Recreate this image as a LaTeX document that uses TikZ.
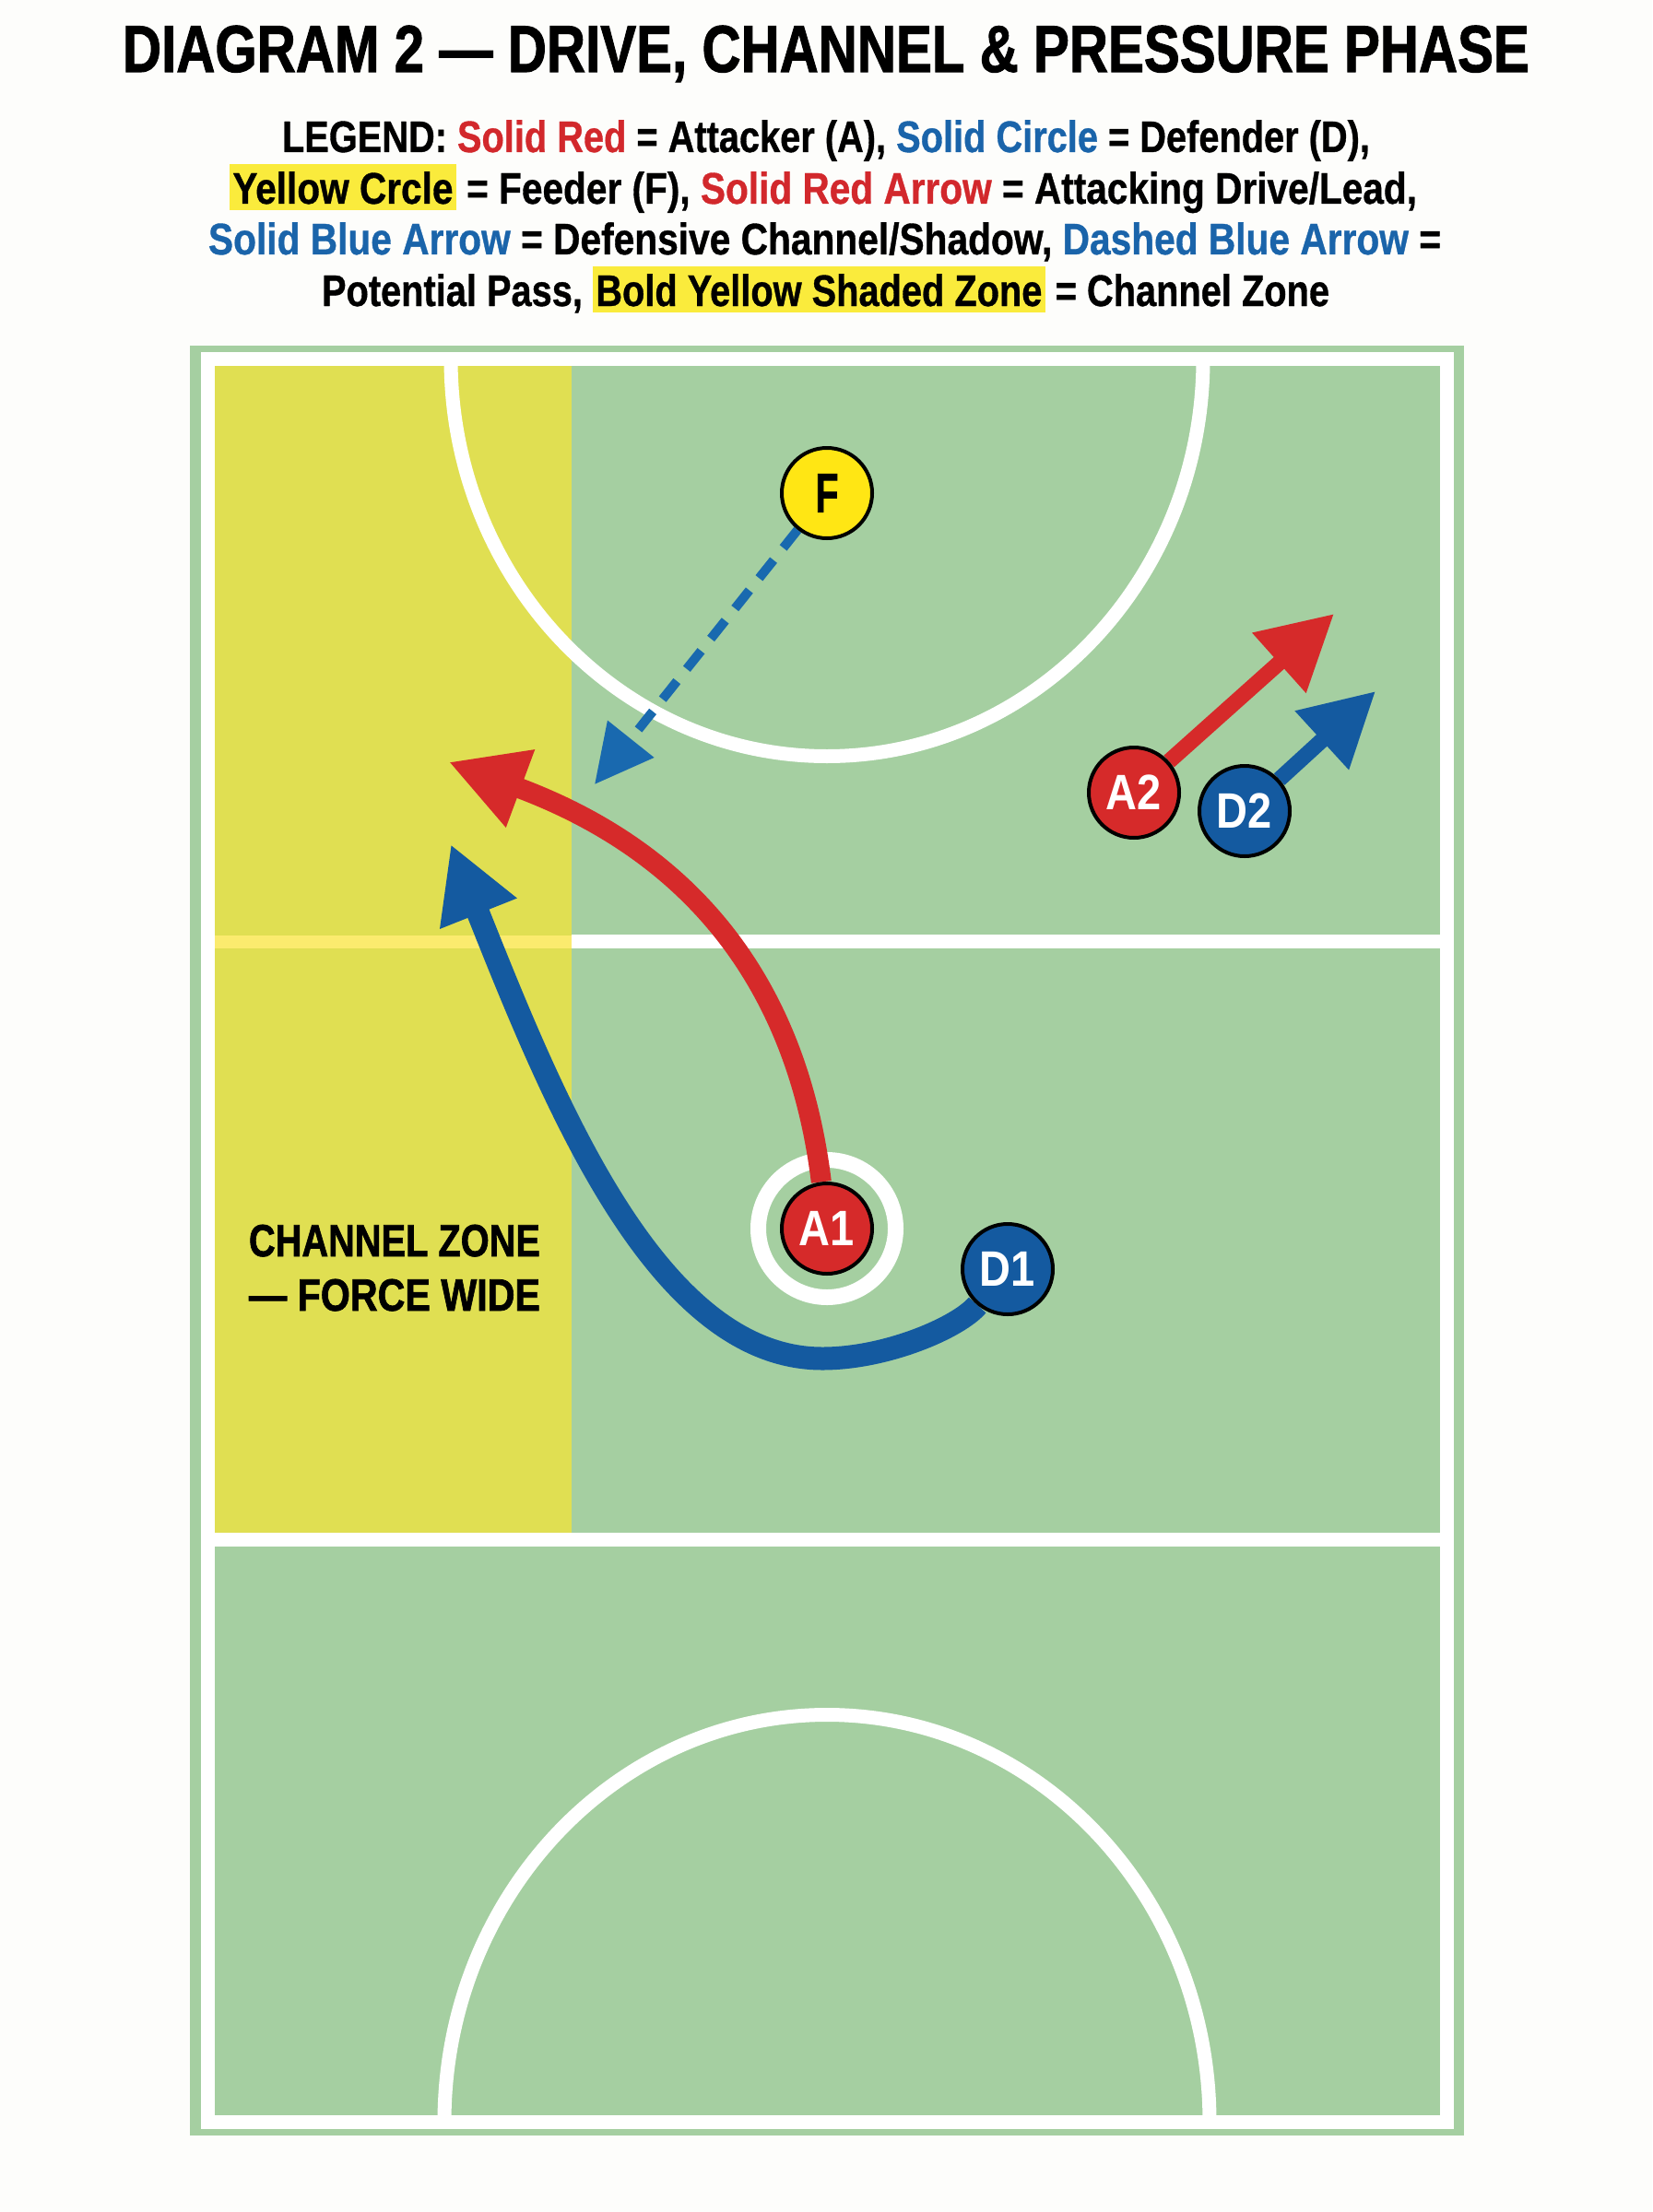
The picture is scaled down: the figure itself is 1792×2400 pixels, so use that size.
\documentclass[tikz,border=0pt]{standalone}
\usepackage{fontspec}
\usepackage{graphicx}
\setmainfont{Liberation Sans}
\newfontfamily\heavyfont{Liberation Sans}[FakeBold=1.5]
\newfontfamily\legendfont{Liberation Sans}[FakeBold=0.8]
\usetikzlibrary{arrows.meta}
\definecolor{pagebg}{HTML}{FDFDFB}
\definecolor{court}{HTML}{A5CFA1}
\definecolor{zoneyellow}{HTML}{E0DF52}
\definecolor{paleyellow}{HTML}{FBEB6E}
\definecolor{hlyellow}{HTML}{FAEB3C}
\definecolor{pred}{HTML}{D62A2A}
\definecolor{pblue}{HTML}{145AA0}
\definecolor{passblue}{HTML}{1969AF}
\definecolor{fyellow}{HTML}{FFE614}
\definecolor{tred}{HTML}{D2282C}
\definecolor{tblue}{HTML}{1A64AA}
\newcommand\hlbox[1]{{\setlength{\fboxsep}{0pt}\colorbox{hlyellow}{\rule[-7pt]{0pt}{50pt}\hspace{4pt}#1\hspace{4pt}}}}
\pgfdeclarelayer{courtlayer}
\pgfdeclarelayer{arrowlayer}
\pgfsetlayers{courtlayer,arrowlayer,main}
\tikzset{
  courtline/.style={draw=white, line width=15pt},
  paleline/.style={draw=paleyellow, line width=14pt},
  player/.style={circle, draw=black, line width=4pt, minimum size=98pt, inner sep=0pt,
    text=white, font=\fontsize{54}{54}\selectfont\bfseries},
  feeder/.style={player, fill=fyellow, text=black, font=\fontsize{60}{60}\selectfont\heavyfont\bfseries},
  titletext/.style={anchor=base, inner sep=0pt, font=\fontsize{72}{72}\selectfont\heavyfont\bfseries},
  legendtext/.style={anchor=base, inner sep=0pt, font=\fontsize{48}{48}\selectfont\legendfont\bfseries},
  zonetext/.style={anchor=base, inner sep=0pt, font=\fontsize{49}{49}\selectfont\heavyfont\bfseries},
  drivearrow/.style={draw=pred, line width=22pt, -{Triangle[length=83pt,width=84pt]}},
  shadowarrow/.style={draw=pblue, line width=25pt, -{Triangle[length=81pt,width=84pt]}},
  leadred/.style={draw=pred, line width=17pt, -{Triangle[length=80pt,width=83pt]}},
  leadblue/.style={draw=pblue, line width=17pt, -{Triangle[length=79pt,width=82pt]}},
  passarrow/.style={draw=passblue, line width=10pt, dash pattern=on 25pt off 17pt, -{Triangle[length=63pt,width=62pt]}}
}
\begin{document}
\begin{tikzpicture}[x=1pt,y=-1pt]
\useasboundingbox (0,0) rectangle (1792,2400);

% players
\node[player, fill=pred] (A1) at (897,1333) {\scalebox{0.87}[1]{A1}};
\node[player, fill=pblue] (D1) at (1093,1377) {\scalebox{0.87}[1]{D1}};
\node[player, fill=pred] (A2) at (1230,860) {\scalebox{0.87}[1]{A2}};
\node[player, fill=pblue] (D2) at (1350,880) {\scalebox{0.87}[1]{D2}};
\node[feeder] (F) at (897,535) {\scalebox{0.68}[1]{F}};

\coordinate (redtip) at (486.7,826.7);
\coordinate (bluebottom) at (892,1474);
\coordinate (bluetip) at (489,916);
\coordinate (passtip) at (645,851);
\coordinate (a2tip) at (1447,666);
\coordinate (d2tip) at (1492,750);

\begin{pgfonlayer}{courtlayer}
\fill[pagebg] (0,0) rectangle (1792,2400);
\fill[court] (205.5,375) rectangle (1588,2317);
\fill[zoneyellow] (225.5,389.5) rectangle (620,1670);
\draw[courtline] (225.5,389.5) rectangle (1569,2302.5);
\draw[courtline] (225.5,1670) -- (1569,1670);
\draw[courtline] (620,1021.5) -- (1569,1021.5);
\draw[paleline] (233,1021.5) -- (620,1021.5);
\draw[courtline] (489,389.5) arc[start angle=180,end angle=0,x radius=408,y radius=431];
\draw[courtline] (482,2302.5) arc[start angle=180,end angle=360,x radius=415,y radius=442];
\draw[white, line width=17pt] (A1.center) circle[radius=74.5];

\node[titletext] (title) at (896,78) {\resizebox{1526pt}{\height}{DIAGRAM 2 — DRIVE, CHANNEL \& PRESSURE PHASE}};
\node[legendtext] (leg1) at (896,165) {\resizebox{1180pt}{\height}{LEGEND: \textcolor{tred}{Solid Red} = Attacker (A), \textcolor{tblue}{Solid Circle} = Defender (D),}};
\node[legendtext] (leg2) at (893,221) {\resizebox{1288pt}{\height}{\hlbox{Yellow Crcle} = Feeder (F), \textcolor{tred}{Solid Red Arrow} = Attacking Drive/Lead,}};
\node[legendtext] (leg3) at (894.5,276) {\resizebox{1337pt}{\height}{\textcolor{tblue}{Solid Blue Arrow} = Defensive Channel/Shadow, \textcolor{tblue}{Dashed Blue Arrow} =}};
\node[legendtext] (leg4) at (895.5,332) {\resizebox{1093pt}{\height}{Potential Pass, \hlbox{Bold Yellow Shaded Zone} = Channel Zone}};

\node[zonetext] (zone1) at (428,1363) {\resizebox{316pt}{\height}{CHANNEL ZONE}};
\node[zonetext] (zone2) at (428,1422) {\resizebox{316pt}{\height}{— FORCE WIDE}};
\end{pgfonlayer}

\begin{pgfonlayer}{arrowlayer}
\draw[drivearrow] (A1) .. controls (867,1087) and (768,931) .. (redtip);
\draw[shadowarrow] (D1) .. controls (1040,1440) and (962,1474) .. (bluebottom)
  .. controls (712,1474) and (600,1195) .. (bluetip);
\draw[passarrow] (F) -- (passtip);
\draw[leadred] (A2) -- (a2tip);
\draw[leadblue] (D2) -- (d2tip);
\end{pgfonlayer}
\end{tikzpicture}
\end{document}
